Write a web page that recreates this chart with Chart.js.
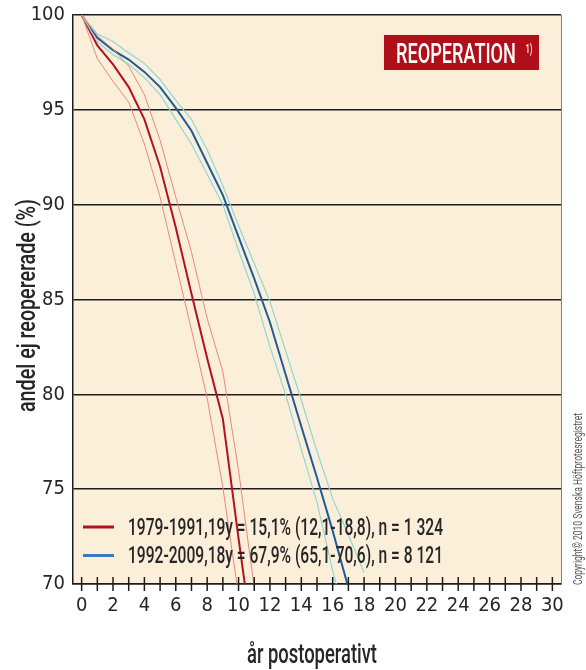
<!DOCTYPE html>
<html>
<head>
<meta charset="utf-8">
<script src="https://cdn.jsdelivr.net/npm/chart.js"></script>
<style>
  html, body { margin: 0; padding: 0; background: #fff; }
</style>
</head>
<body>
<canvas id="myChart" width="586" height="670"></canvas>
<script>
// years after the operation
const yearsRed = [0, 1, 2, 3, 4, 5, 6, 7, 8, 9, 10, 11]
const yearsBlue = [0, 1, 2, 3, 4, 5, 6, 7, 8, 9, 10, 11, 12, 13, 14, 15, 16, 17, 18]

// 1979-1991 (red): estimate and 95% band
const redMain = [100, 98.4, 97.4, 96.2, 94.5, 92.0, 88.8, 85.3, 81.9, 78.7, 72.4, 66.4]
const redLow = [100, 97.7, 96.5, 95.4, 93.2, 90.4, 86.9, 83.4, 79.8, 75.1, 69.4]
const redHigh = [100, 98.9, 98.2, 97.3, 95.8, 93.4, 90.4, 87.5, 84.0, 81.2, 76.0, 69.8]

// 1992-2009 (blue): estimate and 95% band
const blueMain = [100, 98.8, 98.15, 97.65, 97.0, 96.2, 95.1, 93.9, 92.2, 90.5, 88.3, 86.1, 83.8, 81.05, 78.3, 75.6, 72.8, 69.8, 67.9]
const blueLow = [100, 98.6, 97.9, 97.4, 96.7, 95.8, 94.5, 93.2, 91.6, 90.0, 87.6, 85.3, 82.5, 80.0, 77.1, 74.3, 70.7, 67.6, 65.1]
const blueHigh = [100, 99.0, 98.6, 98.0, 97.45, 96.6, 95.5, 94.5, 92.9, 91.0, 88.9, 86.9, 84.9, 82.3, 79.7, 77.0, 74.5, 72.6, 70.6]

const legendLabels = [
    '1979-1991,19y = 15,1% (12,1-18,8), n = 1 324',
    '1992-2009,18y = 67,9% (65,1-70,6), n = 8 121'
]
const xTickValues = [0, 1, 2, 3, 4, 5, 6, 7, 8, 9, 10, 11, 12, 13, 14, 15, 16, 17, 18, 19, 20, 21, 22, 23, 24, 25, 26, 27, 28, 29, 30]
const boxLabel = 'REOPERATION'
const xTitle = 'år postoperativt'
const yTitle = 'andel ej reopererade (%)'
const copyright = 'Copyright© 2010 Svenska Höftprotesregistret'

const RED = '#b3121c'
const RED_CI = '#e58a7d'
const BLUE = '#1a5c9e'
const BLUE_CI = '#8fd6d6'
const INK = '#1c1c1c'
const TEXT = '#262626'
const condensed = "'Liberation Sans Narrow', 'DejaVu Sans Condensed', sans-serif"

function pts(xs, ys) {
    return ys.map((y, i) => ({ x: xs[i], y }))
}

// draw text squeezed to a given width (the original uses a condensed face)
function fitText(ctx, text, x, y, width, font, color, rotate) {
    ctx.save()
    ctx.font = font
    const w = ctx.measureText(text).width
    ctx.translate(x, y)
    if (rotate) ctx.rotate(-Math.PI / 2)
    ctx.scale(width / w, 1)
    ctx.fillStyle = color
    ctx.textAlign = 'left'
    ctx.textBaseline = 'alphabetic'
    ctx.fillText(text, 0, 0)
    ctx.restore()
}

const decor = {
    id: 'decor',
    beforeDraw(chart) {
        const { ctx, chartArea: a } = chart
        ctx.save()
        ctx.fillStyle = '#fcefda'
        ctx.fillRect(a.left, a.top, a.right - a.left, a.bottom - a.top)
        ctx.restore()
    },
    afterDatasetsDraw(chart) {
        const { ctx, chartArea: a } = chart
        const xs = chart.scales.x
        ctx.save()
        // right frame
        ctx.strokeStyle = '#808080'
        ctx.lineWidth = 1
        ctx.beginPath()
        ctx.moveTo(a.right + 0.5, a.top)
        ctx.lineTo(a.right + 0.5, a.bottom)
        ctx.stroke()
        // x tick marks crossing the axis
        ctx.strokeStyle = INK
        ctx.lineWidth = 1.5
        xTickValues.forEach(v => {
            const px = xs.getPixelForValue(v)
            ctx.beginPath()
            ctx.moveTo(px, a.bottom - 7)
            ctx.lineTo(px, a.bottom + 7)
            ctx.stroke()
        })
        // legend
        const legendColors = [RED, '#3a7bbd']
        const legendY = [527, 555.5]
        legendLabels.forEach((t, i) => {
            ctx.strokeStyle = legendColors[i]
            ctx.lineWidth = 3
            ctx.beginPath()
            ctx.moveTo(83, legendY[i])
            ctx.lineTo(114, legendY[i])
            ctx.stroke()
            fitText(ctx, t, 128, legendY[i] + 7.5, 315, '500 24px Roboto', TEXT)
        })
        // title box
        ctx.fillStyle = '#b00e18'
        ctx.fillRect(384, 35, 155, 35)
        fitText(ctx, boxLabel, 396, 63, 120, '500 28px Roboto', '#fff')
        fitText(ctx, '1)', 525.5, 53, 7, '500 12px Roboto', '#fff')
        // axis titles
        fitText(ctx, yTitle, 34.5, 412, 213, '500 25px Roboto', TEXT, true)
        fitText(ctx, xTitle, 247, 663, 130, '500 27px Roboto', TEXT)
        fitText(ctx, copyright, 582, 585, 172, '12px Roboto', '#555', true)
        ctx.restore()
    }
}

const tickFont = { family: condensed, size: 20 }

const config = {
    type: 'line',
    data: {
        datasets: [
            { data: pts(yearsRed, redLow), borderColor: RED_CI, borderWidth: 1 },
            { data: pts(yearsRed, redHigh), borderColor: RED_CI, borderWidth: 1 },
            { data: pts(yearsBlue, blueLow), borderColor: BLUE_CI, borderWidth: 1.2 },
            { data: pts(yearsBlue, blueHigh), borderColor: BLUE_CI, borderWidth: 1.2 },
            { data: pts(yearsRed, redMain), borderColor: RED, borderWidth: 2 },
            { data: pts(yearsBlue, blueMain), borderColor: BLUE, borderWidth: 2 }
        ]
    },
    options: {
        responsive: false,
        animation: false,
        events: [],
        elements: { point: { radius: 0 }, line: { tension: 0 } },
        layout: { padding: { left: 0, top: 15, right: 25, bottom: 0 } },
        plugins: { legend: { display: false }, tooltip: { enabled: false } },
        scales: {
            x: {
                type: 'linear',
                min: -0.55,
                max: 30.55,
                afterBuildTicks: s => { s.ticks = xTickValues.map(v => ({ value: v })) },
                afterFit: s => { s.height = 86; s.paddingLeft = 0; s.paddingRight = 0 },
                ticks: {
                    autoSkip: false,
                    maxRotation: 0,
                    padding: 2,
                    color: TEXT,
                    font: tickFont,
                    callback: v => (v % 2 === 0 ? v : '')
                },
                grid: { display: false },
                border: { display: true, color: INK, width: 1.5 }
            },
            y: {
                min: 70,
                max: 100,
                afterFit: s => { s.width = 73; s.paddingTop = 0; s.paddingBottom = 0 },
                ticks: { stepSize: 5, padding: 8, color: TEXT, font: tickFont },
                grid: { color: INK, lineWidth: 1.5, drawTicks: false },
                border: { display: true, color: INK, width: 1.5 }
            }
        }
    },
    plugins: [decor]
}

const myChart = new Chart(document.getElementById('myChart'), config)
</script>
</body>
</html>
